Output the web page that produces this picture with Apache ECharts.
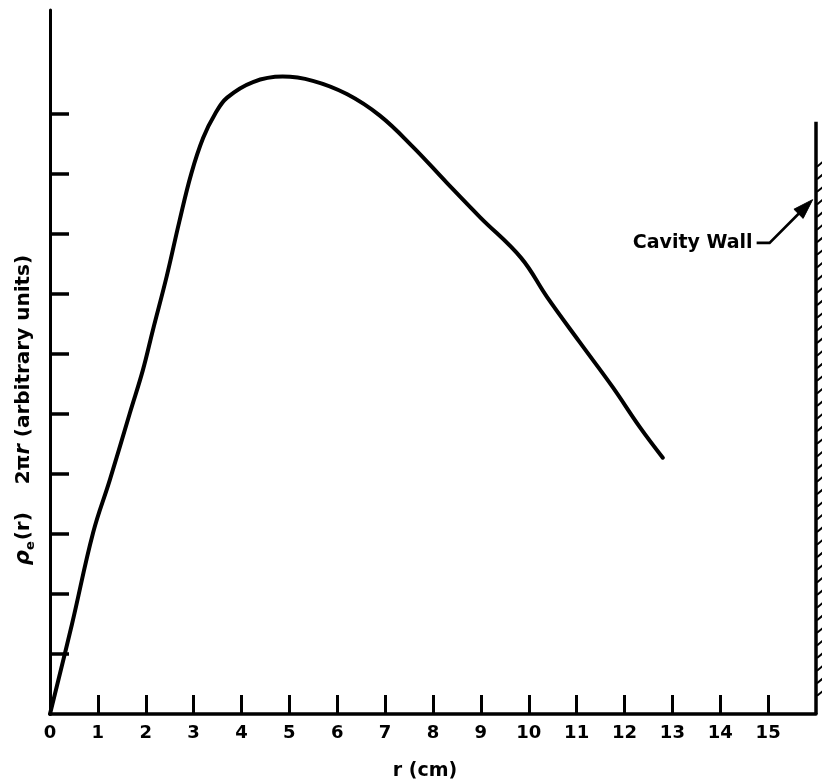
<!DOCTYPE html>
<html>
<head>
<meta charset="utf-8">
<script src="https://cdn.jsdelivr.net/npm/echarts@6/dist/echarts.min.js"></script>
<style>
  html, body { margin: 0; padding: 0; background: #fff; }
  #chart { width: 822px; height: 779px; }
</style>
</head>
<body>
<div id="chart"></div>
<script>
// Radial profile rho_e(r) * 2*pi*r (arbitrary units) against radius r in cm
var R_CM = [0, 0.46, 0.9, 1.25, 1.67, 1.94, 2.15, 2.44, 2.7, 2.95, 3.2, 3.45, 3.7, 4.24,
            4.86, 5.49, 6.2, 6.89, 7.58, 8.29, 8.98, 9.84, 10.38, 11.06, 11.75, 12.32, 12.8];
var RHO = [0, 1.5, 3.02, 3.9, 5.02, 5.73, 6.4, 7.3, 8.2, 9.0, 9.6, 10.0, 10.27, 10.53,
           10.62, 10.55, 10.33, 9.97, 9.45, 8.85, 8.28, 7.6, 6.95, 6.2, 5.45, 4.78, 4.27];

// Axis ticks and labels
var X_TICKS = [1, 2, 3, 4, 5, 6, 7, 8, 9, 10, 11, 12, 13, 14, 15];
var X_LABELS = [0, 1, 2, 3, 4, 5, 6, 7, 8, 9, 10, 11, 12, 13, 14, 15];
var Y_TICKS = [1, 2, 3, 4, 5, 6, 7, 8, 9, 10];

// Cavity wall position (r) and its height
var WALL_R = 16;
var WALL_TOP = 9.87;
var HATCH_TOP = 9.12;
var HATCH_BOTTOM = 0.2;

// Pointer from the "Cavity Wall" note to the wall
var POINTER_R = [14.76, 15.03, 15.93];
var POINTER_Y = [7.85, 7.85, 8.57];

var INK = '#000';
var FONT = '"DejaVu Sans", "Liberation Sans", sans-serif';

var curve = R_CM.map(function (r, i) { return [r, RHO[i]]; });
var pointer = POINTER_R.map(function (r, i) { return [r, POINTER_Y[i]]; });

var chart = echarts.init(document.getElementById('chart'), null, { renderer: 'canvas' });

chart.setOption({
  backgroundColor: '#fff',
  animation: false,
  grid: { left: 50, right: 6, top: 10, bottom: 65, containLabel: false, outerBoundsMode: 'none' },
  xAxis: {
    type: 'value', min: 0, max: 16, interval: 1,
    name: 'r (cm)', nameLocation: 'middle', nameGap: 48,
    nameTextStyle: { color: INK, fontFamily: FONT, fontWeight: 'bold', fontSize: 19, padding: [0, 16, 0, 0] },
    axisLine: { show: true, onZero: false, lineStyle: { color: INK, width: 3.5 } },
    axisTick: { show: true, inside: true, length: 19, customValues: X_TICKS, lineStyle: { color: INK, width: 3 } },
    axisLabel: { show: true, customValues: X_LABELS, margin: 10, color: INK, fontFamily: FONT, fontWeight: 'bold', fontSize: 18 },
    splitLine: { show: false }
  },
  yAxis: {
    type: 'value', min: 0, max: 11.73, interval: 1,
    axisLine: { show: true, onZero: false, lineStyle: { color: INK, width: 3 } },
    axisTick: { show: true, inside: true, length: 19, customValues: Y_TICKS, lineStyle: { color: INK, width: 3.5 } },
    axisLabel: { show: false },
    splitLine: { show: false }
  },
  graphic: [{
    type: 'text',
    x: 24, y: 410,
    rotation: Math.PI / 2,
    style: {
      text: '{g|ρ}{s|e}{n|(r)    2π}{g|r}{n| (arbitrary units)}',
      align: 'center', verticalAlign: 'middle',
      fill: INK,
      rich: {
        n: { fontFamily: FONT, fontWeight: 'bold', fontSize: 20, lineHeight: 26, fill: INK },
        g: { fontFamily: FONT, fontWeight: 'bold', fontStyle: 'italic', fontSize: 21, lineHeight: 26, fill: INK },
        s: { fontFamily: FONT, fontWeight: 'bold', fontSize: 13, lineHeight: 26, verticalAlign: 'bottom', padding: [0, 1, 0, 0], fill: INK }
      }
    }
  }],
  series: [
    {
      name: 'profile', type: 'line', data: curve,
      smooth: 0.4, showSymbol: false, clip: false,
      lineStyle: { color: INK, width: 4, cap: 'round', join: 'round' }
    },
    {
      name: 'wall', type: 'line', data: [[WALL_R, 0], [WALL_R, WALL_TOP]],
      showSymbol: false, clip: false,
      lineStyle: { color: INK, width: 3.5 }
    },
    {
      // short diagonal hatching on the outside of the wall
      name: 'wall hatch', type: 'custom', clip: false,
      data: [[WALL_R, HATCH_TOP]],
      renderItem: function (params, api) {
        var top = api.coord([WALL_R, HATCH_TOP]);
        var bottom = api.coord([WALL_R, HATCH_BOTTOM]);
        var children = [];
        for (var y = top[1]; y <= bottom[1]; y += 12.6) {
          children.push({
            type: 'line',
            shape: { x1: top[0] + 1, y1: y, x2: top[0] + 7, y2: y - 5 },
            style: { stroke: INK, lineWidth: 2 }
          });
        }
        return { type: 'group', children: children };
      }
    },
    {
      // leader line with a filled arrowhead touching the wall
      name: 'pointer', type: 'custom', clip: false,
      data: [pointer[0]],
      renderItem: function (params, api) {
        var pts = pointer.map(function (p) { return api.coord(p); });
        var a = pts[pts.length - 2], b = pts[pts.length - 1];
        var dx = b[0] - a[0], dy = b[1] - a[1];
        var len = Math.sqrt(dx * dx + dy * dy);
        var ux = dx / len, uy = dy / len;
        var hl = 20, hw = 6.5;
        var bx = b[0] - ux * hl, by = b[1] - uy * hl;
        return {
          type: 'group',
          children: [
            {
              type: 'polyline',
              shape: { points: [pts[0], pts[1], [bx + ux * 4, by + uy * 4]] },
              style: { stroke: INK, lineWidth: 2.6, fill: null }
            },
            {
              type: 'polygon',
              shape: { points: [b, [bx - uy * hw, by + ux * hw], [bx + uy * hw, by - ux * hw]] },
              style: { fill: INK, stroke: INK, lineWidth: 1 }
            }
          ]
        };
      }
    },
    {
      name: 'note', type: 'scatter', data: [pointer[0]],
      symbolSize: 0, silent: true,
      label: {
        show: true, position: 'left', distance: 4,
        formatter: 'Cavity Wall',
        color: INK, opacity: 1, textBorderWidth: 0, fontFamily: FONT, fontWeight: 'bold', fontSize: 19
      }
    }
  ]
});
</script>
</body>
</html>
